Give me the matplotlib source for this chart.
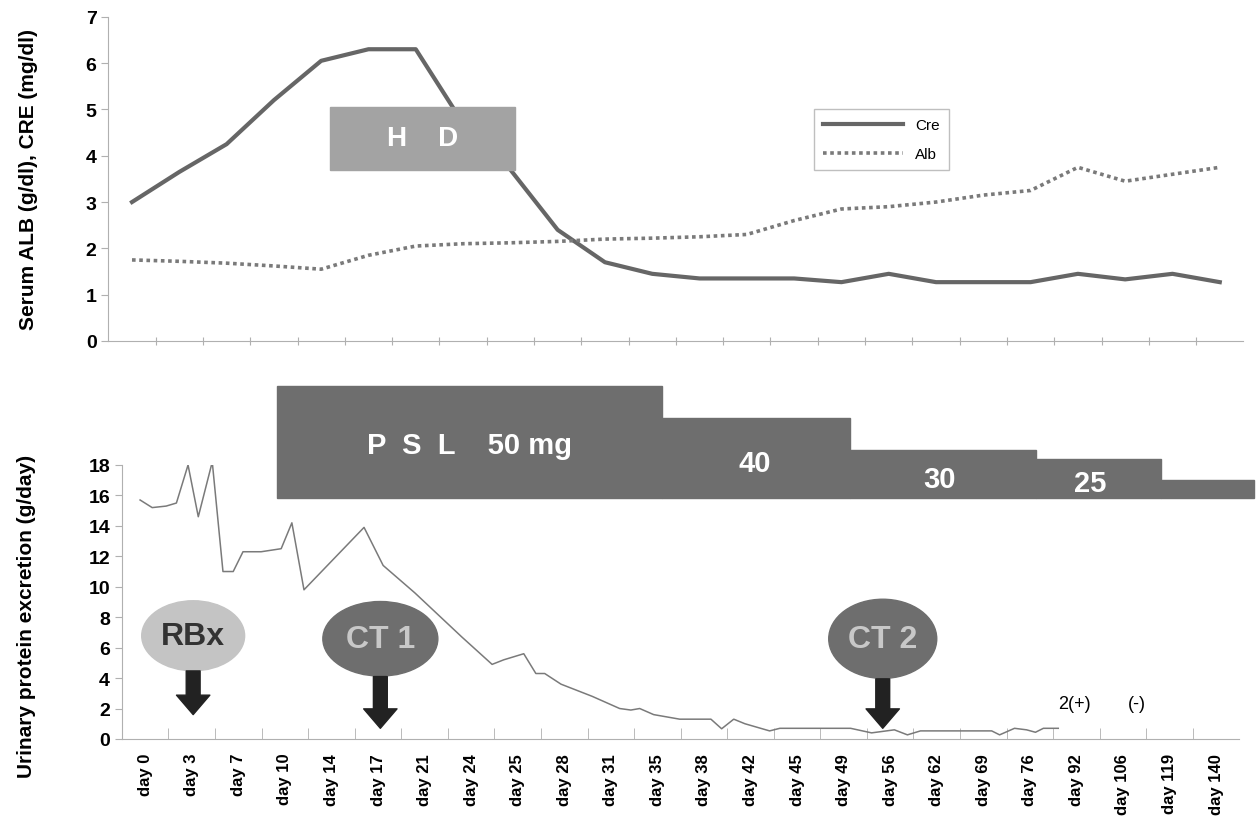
import matplotlib
matplotlib.use("Agg")
import matplotlib.pyplot as plt
from matplotlib.patches import Ellipse, Rectangle

plt.rcParams['font.family'] = ['Liberation Sans', 'DejaVu Sans']

# categories (x axis)
days = ["day 0", "day 3", "day 7", "day 10", "day 14", "day 17", "day 21", "day 24",
        "day 25", "day 28", "day 31", "day 35", "day 38", "day 42", "day 45", "day 49",
        "day 56", "day 62", "day 69", "day 76", "day 92", "day 106", "day 119", "day 140"]

# top panel: serum values per category
cre = [3.0, 3.65, 4.25, 5.2, 6.05, 6.3, 6.3, 4.7, 3.7, 2.4, 1.7, 1.45, 1.35, 1.35,
       1.35, 1.27, 1.45, 1.27, 1.27, 1.27, 1.45, 1.33, 1.45, 1.27]
alb = [1.75, 1.72, 1.68, 1.62, 1.55, 1.85, 2.05, 2.1, 2.12, 2.15, 2.2, 2.22, 2.25,
       2.3, 2.6, 2.85, 2.9, 3.0, 3.15, 3.25, 3.75, 3.45, 3.6, 3.75]

# bottom panel: urinary protein (position on category axis, g/day)
prot_x = [-0.11, 0.15, 0.45, 0.67, 0.92, 1.14, 1.44, 1.67, 1.89, 2.10, 2.49, 2.92, 3.15,
          3.41, 4.70, 5.11, 5.79, 6.80, 7.45, 7.70, 8.13, 8.39, 8.58, 8.93, 9.6, 10.19,
          10.43, 10.62, 10.92, 11.48, 12.15, 12.38, 12.64, 12.88, 13.41, 13.63, 15.15,
          15.60, 16.09, 16.37, 16.65, 18.18, 18.35, 18.67, 18.93, 19.12, 19.29, 19.61]
prot_y = [15.7, 15.2, 15.3, 15.5, 18.0, 14.6, 18.2, 11.0, 11.0, 12.3, 12.3, 12.5, 14.2,
          9.8, 13.9, 11.4, 9.6, 6.7, 4.9, 5.2, 5.6, 4.3, 4.3, 3.6, 2.8, 2.0,
          1.9, 2.0, 1.6, 1.3, 1.3, 0.67, 1.3, 1.0, 0.53, 0.7, 0.7,
          0.4, 0.6, 0.27, 0.53, 0.53, 0.27, 0.7, 0.6, 0.44, 0.7, 0.7]

# PSL dose steps: start, end, level (drawn as bars above the plot)
psl_start = [2.83, 11.09, 15.13, 19.14, 21.82]
psl_end = [11.09, 15.13, 19.14, 21.82, 23.82]
psl_top = [23.2, 21.1, 19.0, 18.4, 17.0]
psl_text = ["P  S  L    50 mg", "40", "30", "25", ""]
psl_text_pos = [(6.97, 19.3), (13.1, 18.1), (17.06, 17.1), (20.3, 16.8), (0, 0)]

fig = plt.figure(figsize=(12.57, 8.29), dpi=100)
ax1 = fig.add_axes([0.0862, 0.5875, 0.903, 0.391])
ax2 = fig.add_axes([0.097, 0.1074, 0.889, 0.3305])

spine_col = "#b0b0b0"
x = list(range(len(days)))

# ---- top panel ----
ax1.plot(x, cre, color="#666666", lw=3, label="Cre", zorder=2)
ax1.plot(x, alb, color="#7a7a7a", lw=2.6, ls=(0, (1, 1)), label="Alb", zorder=2)
ax1.add_patch(Rectangle((4.19, 3.7), 8.1 - 4.19, 5.05 - 3.7, color="#a3a3a3", zorder=3))
ax1.text(6.15, 4.38, "H    D", color="white", fontsize=20, fontweight="bold",
         ha="center", va="center", zorder=4)
ax1.set_xlim(-0.5, 23.5)
ax1.set_ylim(0, 7)
ax1.set_yticks(range(0, 8))
ax1.set_xticks([i + 0.5 for i in range(23)])
ax1.set_xticklabels([])
ax1.set_ylabel("Serum ALB (g/dl), CRE (mg/dl)", fontsize=15, fontweight="bold")
ax1.yaxis.set_label_coords(-0.062, 0.5)
leg = ax1.legend(loc="upper left", bbox_to_anchor=(0.615, 0.74), fontsize=11,
                 frameon=True, fancybox=False, edgecolor="#b0b0b0", handlelength=5.2,
                 borderpad=0.6, labelspacing=1.0)

# ---- bottom panel ----
ax2.plot(prot_x, prot_y, color="#7a7a7a", lw=1.1, zorder=2)
for s, e, t in zip(psl_start, psl_end, psl_top):
    ax2.add_patch(Rectangle((s, 15.8), e - s, t - 15.8, color="#6e6e6e",
                            clip_on=False, zorder=3))
for txt, (tx, ty) in zip(psl_text, psl_text_pos):
    if txt:
        ax2.text(tx, ty, txt, color="white", fontsize=21, fontweight="bold",
                 ha="center", va="center", zorder=4, clip_on=False)

bubbles = [("RBx", 1.03, 6.78, 2.21, 4.6, "#c4c4c4", "#333333", 4.47, 1.6),
           ("CT 1", 5.05, 6.58, 2.47, 4.9, "#6e6e6e", "#c8c8c8", 4.1, 0.7),
           ("CT 2", 15.84, 6.58, 2.32, 5.2, "#6e6e6e", "#c8c8c8", 3.95, 0.7)]
for name, bx, by, bw, bh, fc, tc, a0, a1 in bubbles:
    ax2.add_patch(Ellipse((bx, by), bw, bh, color=fc, zorder=5))
    ax2.text(bx, by, name, color=tc, fontsize=23, fontweight="bold",
             ha="center", va="center", zorder=6)
    ax2.annotate("", xy=(bx, a1), xytext=(bx, a0),
                 arrowprops=dict(width=10, headwidth=24, headlength=14,
                                 color="#222222", shrink=0), zorder=6)

ax2.text(19.96, 2.3, "2(+)", fontsize=13, ha="center", va="center")
ax2.text(21.3, 2.3, "(-)", fontsize=13, ha="center", va="center")

ax2.set_xlim(-0.5, 23.5)
ax2.set_ylim(0, 18)
ax2.set_yticks(range(0, 19, 2))
ax2.set_xticks(x)
ax2.set_xticklabels(days, rotation=90, fontsize=12, fontweight="bold")
ax2.set_xticks([i + 0.5 for i in range(23)], minor=True)
ax2.tick_params(axis="x", which="major", length=0, pad=10)
ax2.tick_params(axis="x", which="minor", length=8, direction="in", color=spine_col)
ax2.set_ylabel("Urinary protein excretion (g/day)", fontsize=15, fontweight="bold")
ax2.yaxis.set_label_coords(-0.077, 0.45)

for ax in (ax1, ax2):
    ax.spines["top"].set_visible(False)
    ax.spines["right"].set_visible(False)
    ax.spines["left"].set_color(spine_col)
    ax.spines["bottom"].set_color(spine_col)
    ax.tick_params(axis="y", labelsize=14, color=spine_col, length=5)
    for lab in ax.get_yticklabels():
        lab.set_fontweight("bold")
ax1.tick_params(axis="x", length=6, direction="inout", color=spine_col)

fig.savefig("out.png", dpi=100)
